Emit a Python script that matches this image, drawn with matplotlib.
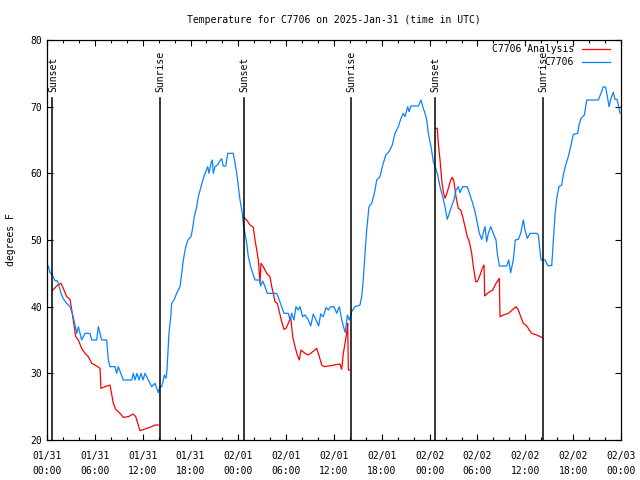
import numpy as np
import matplotlib
matplotlib.use("Agg")
import matplotlib.pyplot as plt
from matplotlib.lines import Line2D

# ---- data (hours since 2025-01-31 00:00 UTC, degrees F) ----
obs_hours = [0.16, 0.38, 0.66, 1.0, 1.25, 1.42, 1.76, 2.04, 2.47, 2.89, 3.17, 3.42, 3.73, 3.93, 4.35,
             4.77, 5.39, 5.61, 6.23, 6.44, 6.86, 7.49, 7.69, 7.90, 8.53, 8.74, 8.94, 9.57, 10.62, 10.83,
             11.04, 11.29, 11.54, 11.79, 12.04, 12.29, 12.71, 13.13, 13.55, 13.96, 14.17, 14.39, 14.59,
             14.71, 14.93, 15.05, 15.14, 15.30, 15.52, 15.64, 15.97, 16.27, 16.68, 16.90, 17.10, 17.40,
             17.72, 18.06, 18.23, 18.48, 18.78, 18.98, 19.32, 19.61, 19.91, 20.16, 20.32, 20.57, 20.73,
             20.86, 21.07, 21.41, 21.70, 21.91, 22.11, 22.42, 22.67, 23.37, 23.58, 23.80, 24.00, 24.21,
             24.50, 24.62, 24.84, 25.05, 25.25, 25.55, 25.80, 26.09, 26.63, 26.81, 27.06, 27.35, 27.63,
             28.81, 29.14, 29.44, 29.73, 30.27, 30.48, 30.69, 30.98, 31.23, 31.52, 31.74, 32.07, 32.36,
             32.78, 33.08, 33.40, 33.74, 34.08, 34.33, 34.66, 35.00, 35.29, 35.59, 36.00, 36.34, 36.67,
             36.97, 37.25, 37.42, 37.67, 37.92, 38.22, 38.63, 39.26, 39.47, 39.67, 39.89, 40.10, 40.39,
             40.73, 41.06, 41.36, 41.77, 42.06, 42.49, 42.90, 43.31, 43.65, 44.07, 44.40, 44.69, 44.91,
             45.25, 45.41, 45.66, 46.58, 46.91, 47.20, 47.42, 47.63, 47.83, 48.17, 48.46, 48.76, 48.96,
             49.30, 49.63, 49.92, 50.21, 50.46, 50.76, 51.05, 51.30, 51.59, 51.80, 52.14, 52.72, 53.06,
             53.40, 53.69, 53.90, 54.23, 54.53, 54.82, 54.94, 55.15, 55.36, 55.66, 55.98, 56.32, 56.48,
             56.74, 57.66, 57.91, 58.16, 58.49, 58.74, 59.12, 59.42, 59.75, 59.96, 60.25, 60.59, 61.43,
             61.63, 61.78, 61.97, 62.47, 62.81, 63.31, 63.51, 63.72, 63.94, 64.22, 64.56, 64.76, 65.06,
             65.39, 65.73, 66.02, 66.57, 66.73, 66.98, 67.40, 67.70, 69.15, 69.49, 69.78, 70.08, 70.33,
             70.50, 70.75, 71.04, 71.25, 71.50, 71.67, 71.88]
obs_temps = [46.1, 45.1, 44.75, 43.9, 43.9, 43.5, 42.0, 41.2, 40.5, 40.0, 39.0, 37.75, 36.0, 37.0, 35.0,
             36.0, 36.0, 35.0, 35.0, 37.0, 35.0, 35.0, 32.0, 31.0, 31.0, 30.0, 31.0, 29.0, 29.0, 30.0,
             29.0, 30.0, 29.0, 30.0, 29.0, 30.0, 29.0, 28.0, 28.5, 27.1, 28.0, 28.0, 29.0,
             29.75, 29.25, 30.5, 32.5, 36.0, 38.5, 40.5, 41.1, 42.0, 43.0, 45.0, 47.0, 49.0,
             50.1, 50.5, 51.5, 53.5, 55.0, 56.5, 58.0, 59.25, 60.25, 61.0, 60.0, 61.5, 62.0,
             60.0, 61.0, 61.3, 61.9, 62.2, 61.1, 61.1, 63.0, 63.0, 61.5, 60.0, 58.0, 56.0,
             54.0, 52.5, 51.0, 49.5, 47.5, 46.0, 45.0, 44.0, 44.0, 43.1, 43.85, 43.0, 42.0,
             42.0, 41.0, 40.0, 39.0, 39.0, 38.0, 39.0, 38.0, 40.0, 39.5, 40.0, 38.5, 38.75,
             38.0, 37.1, 38.9, 38.0, 37.1, 38.9, 38.5, 39.9, 39.5, 40.0, 40.0, 39.0, 40.0,
             38.0, 36.75, 36.1, 38.75, 38.0, 39.25, 40.0, 40.25, 41.5, 44.0, 48.0, 51.5, 55.0,
             55.5, 57.0, 59.0, 59.5, 61.0, 62.75, 63.25, 64.25, 66.0, 67.0, 68.25, 69.0, 68.5,
             70.0, 69.25, 70.1, 70.1, 71.0, 69.75, 69.0, 68.0, 66.0, 64.0, 61.75, 60.75, 60.0,
             58.0, 56.5, 55.0, 53.1, 54.0, 55.1, 56.0, 57.5, 58.0, 57.1, 58.0, 58.0, 56.75,
             55.5, 54.25, 53.0, 51.0, 50.1, 51.5, 52.0, 49.75, 51.0, 52.0, 51.0, 50.0, 48.0,
             46.1, 46.1, 47.0, 45.1, 47.0, 50.0, 50.1, 51.0, 53.0, 51.5, 50.25, 51.0, 51.0,
             50.75, 49.0, 47.0, 47.0, 46.15, 46.15, 49.75, 53.75, 56.25, 58.0, 58.25, 59.75, 61.25,
             62.5, 64.25, 65.85, 66.0, 67.25, 68.25, 68.75, 71.0, 71.0, 72.0, 73.0, 72.9, 71.25,
             70.0, 71.25, 72.15, 71.1, 71.1, 70.25, 69.0]

ana_hours = [0.66, 1.34, 1.76, 2.04, 2.47, 2.89, 3.10, 3.42, 3.60, 3.93, 4.35, 4.77, 5.18, 5.61, 6.02,
             6.65, 6.77, 7.28, 7.90, 8.32, 8.62, 9.16, 9.57, 10.20, 10.83, 11.13, 11.67, 12.29, 13.13,
             13.55, 13.96, 14.0,
             24.71, 25.05, 25.47, 25.88, 26.09, 26.31, 26.51, 26.72, 26.84, 27.13, 27.56, 27.97, 28.19,
             28.39, 28.60, 28.89, 29.14, 29.44, 29.73, 29.98, 30.27, 30.57, 30.69, 30.82, 31.11, 31.40,
             31.65, 31.86, 32.36, 32.78, 33.33, 33.83, 34.16, 34.46, 34.75, 35.09, 36.75, 36.97, 37.17,
             37.38, 37.59, 37.72, 37.80, 38.01, 38.05,
             48.80, 48.96, 49.08, 49.30, 49.51, 49.71, 49.92, 50.14, 50.34, 50.64, 50.84, 51.05, 51.30,
             51.59, 51.89, 52.14, 52.43, 52.72, 52.97, 53.27, 53.48, 53.78, 53.98, 54.32, 54.61, 54.82,
             54.90, 55.36, 55.91, 56.32, 56.74, 56.82, 57.24, 57.89, 58.44, 58.85, 59.12, 59.42, 59.75,
             60.18, 60.50, 60.80, 61.43, 62.05]
ana_temps = [42.4, 43.25, 43.5, 42.75, 41.5, 41.1, 39.5, 37.0, 35.5, 35.0, 33.75, 33.0, 32.5, 31.5, 31.25,
             30.75, 27.75, 28.0, 28.25, 25.5, 24.6, 24.0, 23.4, 23.5, 23.9, 23.5, 21.4, 21.65, 22.0,
             22.25, 22.25, np.nan,
             53.4, 53.0, 52.25, 51.9, 50.0, 48.5, 47.0, 43.6, 46.5, 46.0, 45.0, 44.5, 43.0,
             42.0, 40.75, 40.5, 39.25, 37.75, 36.6, 36.75, 37.5, 38.4, 37.0, 35.5, 34.0, 32.75,
             32.0, 33.5, 33.0, 32.75, 33.25, 33.75, 32.5, 31.25, 31.0, 31.05, 31.4, 30.6, 33.0,
             34.5, 36.0, 37.5, 30.5, 30.5, np.nan,
             66.75, 66.75, 64.5, 62.0, 59.0, 57.25, 56.25, 56.9, 57.75, 59.0, 59.4, 58.75, 56.5,
             54.75, 54.5, 53.5, 52.0, 50.5, 49.75, 48.0, 46.0, 43.75, 43.75, 44.75, 45.75, 46.25,
             41.6, 42.1, 42.5, 43.5, 44.25, 38.5, 38.75, 39.0, 39.6, 40.0, 39.5, 38.5, 37.5,
             37.1, 36.5, 36.0, 35.75, 35.4]

sun_hours = [0.66, 14.16, 24.66, 38.16, 48.66, 62.16]
sun_labels = ["Sunset", "Sunrise", "Sunset", "Sunrise", "Sunset", "Sunrise"]

tick_hours = list(range(0, 73, 6))
tick_labels = ["01/31\n00:00", "01/31\n06:00", "01/31\n12:00", "01/31\n18:00",
               "02/01\n00:00", "02/01\n06:00", "02/01\n12:00", "02/01\n18:00",
               "02/02\n00:00", "02/02\n06:00", "02/02\n12:00", "02/02\n18:00",
               "02/03\n00:00"]

series_names = ["C7706 Analysis", "C7706"]
RED = "#ff0000"
BLUE = "#0a82ff"
FONT = "DejaVu Sans Mono"
FS = 7

plt.rcParams['font.family'] = [FONT]
fig = plt.figure(figsize=(6.4, 4.8), dpi=100)
ax = fig.add_axes([47 / 640, 40 / 480, 574 / 640, 400 / 480])

ax.plot(ana_hours, ana_temps, color=RED, lw=0.9)
ax.plot(obs_hours, obs_temps, color=BLUE, lw=0.9)

for h, lab in zip(sun_hours, sun_labels):
    ax.plot([h, h], [20, 71.3], color="black", lw=1.1)
    ax.text(h + 0.08, 72.2, lab, rotation=90, ha="center", va="bottom", fontsize=FS)

ax.set_xlim(0, 72)
ax.set_ylim(20, 80)
ax.set_xticks(tick_hours)
ax.set_xticklabels(tick_labels, fontsize=FS, linespacing=1.6)
ax.set_xticks(list(range(0, 73, 2)), minor=True)
ax.set_yticks(range(20, 81, 10))
ax.tick_params(axis="y", labelsize=FS)
ax.tick_params(which="both", direction="in", top=True, right=True, width=0.8)
ax.tick_params(which="major", length=4)
ax.tick_params(which="minor", length=2.3)
ax.tick_params(axis="x", pad=8)
for s in ax.spines.values():
    s.set_linewidth(0.9)

ax.set_ylabel("degrees F", fontsize=FS, labelpad=10)
ax.set_title("Temperature for C7706 on 2025-Jan-31 (time in UTC)", fontsize=FS, pad=12)

# legend (top right, text right-aligned, sample line to the right)
for i, (name, col) in enumerate(zip(series_names, [RED, BLUE])):
    ypix = 49.5 + 13 * i
    yax = 1 - (ypix - 40) / 400
    ax.text((574 - 47) / 574, yax, name, transform=ax.transAxes, ha="right", va="center", fontsize=FS)
    ax.add_line(Line2D([(582 - 47) / 574, (610 - 47) / 574], [yax, yax], transform=ax.transAxes,
                       color=col, lw=0.9))

fig.savefig("out.png", dpi=100)
